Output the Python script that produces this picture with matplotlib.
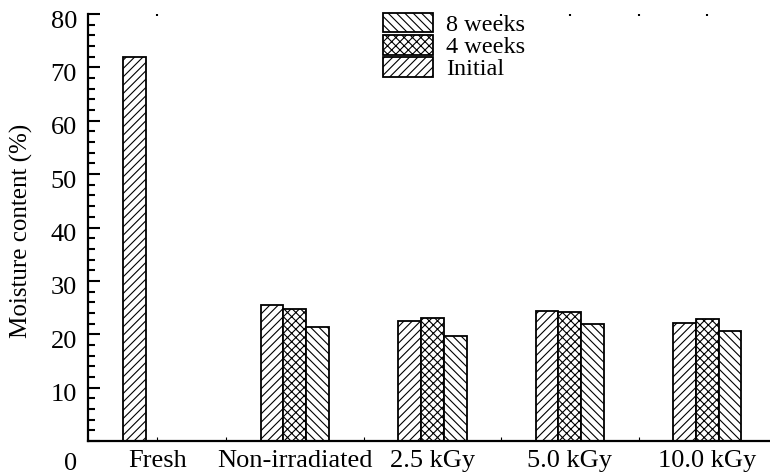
import numpy as np
import matplotlib
matplotlib.use('Agg')
import matplotlib.pyplot as plt
from matplotlib.transforms import ScaledTranslation

plt.rcParams['font.family'] = 'Liberation Serif'
plt.rcParams['hatch.linewidth'] = 0.8

# data
groups = ['Fresh', 'Non-irradiated', '2.5 kGy', '5.0 kGy', '10.0 kGy']
initial = [72.0, 25.5, 22.4, 24.4, 22.2]
week4 = [np.nan, 24.7, 23.1, 24.2, 22.8]
week8 = [np.nan, 21.4, 19.7, 22.0, 20.7]
yticks = [0, 10, 20, 30, 40, 50, 60, 70, 80]

fig = plt.figure(figsize=(7.7, 4.75), dpi=100)
ax = fig.add_axes([88/770, 34/475, 688/770, 427/475])

x = np.arange(len(groups))
w = 0.166
ax.bar(x - w, initial, w, color='white', edgecolor='black', linewidth=1.3,
       hatch='////', label='Initial')
ax.bar(x, week4, w, color='white', edgecolor='black', linewidth=1.3,
       hatch='xxxx', label='4 weeks')
ax.bar(x + w, week8, w, color='white', edgecolor='black', linewidth=1.3,
       hatch='\\\\\\\\', label='8 weeks')

ax.set_xlim(-0.505, 4.5)
ax.set_ylim(0, 80)
ax.set_axisbelow(True)

for s in ['top', 'right']:
    ax.spines[s].set_visible(False)
for s in ['left', 'bottom']:
    ax.spines[s].set_linewidth(1.6)

ax.set_xticks(x)
ax.set_xticklabels(groups, fontsize=19)
ax.set_xticks(np.arange(0.5, 4.6, 1.0), minor=True)
ax.tick_params(axis='x', which='both', direction='in', length=3, width=0.8, pad=6.5)

ax.set_yticks(yticks)
ax.set_yticklabels([str(v) for v in yticks], fontsize=19)
ax.set_yticks(np.arange(0, 81, 2), minor=True)
ax.tick_params(axis='y', which='major', direction='in', length=8.6, width=1.5, pad=8)
ax.tick_params(axis='y', which='minor', direction='in', length=5, width=1.5)

for lab in ax.get_yticklabels():
    lab.set_transform(lab.get_transform() + ScaledTranslation(0, -5/100, fig.dpi_scale_trans))
ax.get_yticklabels()[0].set_transform(
    ax.get_yticklabels()[0].get_transform() + ScaledTranslation(0, -15/100, fig.dpi_scale_trans))

# small ticks along the top edge
top = ax.secondary_xaxis('top')
top.set_xticks([0, 2.5, 3, 3.5, 4])
top.set_xticklabels([])
top.tick_params(direction='in', length=1.5, width=1.5)
top.spines['top'].set_visible(False)

fig.text(21/770, 1 - 231/475, 'Moisture content (%)', rotation=90,
         ha='center', va='center', fontsize=18)

h, l = ax.get_legend_handles_labels()
ax.legend(h[::-1], l[::-1], loc='upper left', bbox_to_anchor=(383/770, 1 - 13/475),
          bbox_transform=fig.transFigure, frameon=False, fontsize=17.5,
          borderpad=0, borderaxespad=0, handlelength=2.05, handleheight=0.85,
          handletextpad=0.55, labelspacing=-0.04)

plt.savefig('out.png', dpi=100)
